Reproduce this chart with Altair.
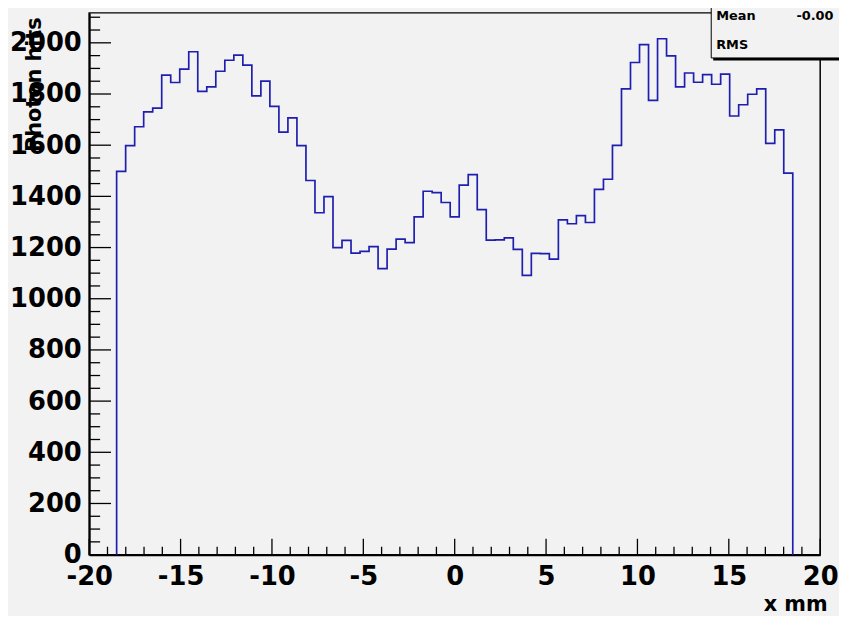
import altair as alt
import numpy as np
import pandas as pd

# ---- data ----
counts = [1498, 1598, 1672, 1730, 1745, 1874, 1845, 1897, 1965, 1810,
          1828, 1889, 1932, 1952, 1913, 1793, 1850, 1752, 1651, 1707,
          1598, 1462, 1336, 1399, 1200, 1228, 1178, 1185, 1204, 1118,
          1194, 1233, 1219, 1320, 1420, 1415, 1376, 1320, 1444, 1485,
          1348, 1229, 1230, 1238, 1193, 1091, 1177, 1176, 1155, 1308,
          1293, 1325, 1298, 1427, 1467, 1599, 1820, 1923, 1993, 1775,
          2016, 1949, 1828, 1882, 1846, 1876, 1838, 1878, 1714, 1758,
          1799, 1820, 1607, 1660, 1491]
hist_range = [-18.5, 18.5]
x_major = [-20, -15, -10, -5, 0, 5, 10, 15, 20]
x_minor = [v for v in range(-20, 21) if v % 5 != 0]
y_major = [0, 200, 400, 600, 800, 1000, 1200, 1400, 1600, 1800, 2000]
y_minor = [v for v in range(0, 2101, 50) if v % 200 != 0]
x_title = "x mm"
y_title = "Photon hits"
stats_names = ["Mean", "RMS"]
stats_vals = ["-0.00", ""]

# ---- build the outline of the histogram ----
edges = np.linspace(hist_range[0], hist_range[1], len(counts) + 1)
rows = [{"i": 0, "x": edges[0], "y": 0}]
for k, c in enumerate(counts):
    rows.append({"i": len(rows), "x": edges[k], "y": c})
    rows.append({"i": len(rows), "x": edges[k + 1], "y": c})
rows.append({"i": len(rows), "x": edges[-1], "y": 0})
df = pd.DataFrame(rows)

W, H = 738, 547
BG = "#f2f2f2"
FONT = "DejaVu Sans"
xs = alt.Scale(domain=[-20, 20], nice=False, zero=False)
ys = alt.Scale(domain=[0, 2117], nice=False, zero=False)

axis_common = dict(ticks=False, grid=False, domain=True, domainColor="black",
                   domainWidth=2, labelFont=FONT, labelFontWeight="bold",
                   labelFontSize=26, labelColor="black", labelOverlap=False,
                   labelFlush=False, labelExpr="datum.value + ''",
                   titleFont=FONT, titleFontWeight="bold",
                   titleColor="black")

hist = alt.Chart(df).mark_line(color="#1e1eb0", strokeWidth=1.7).encode(
    x=alt.X("x:Q", scale=xs,
            axis=alt.Axis(values=x_major, labelPadding=9, title=x_title,
                          titleFontSize=21, titleX=W + 7, titleY=50,
                          titleAlign="right", titleBaseline="middle",
                          **axis_common)),
    y=alt.Y("y:Q", scale=ys,
            axis=alt.Axis(values=y_major, labelPadding=8, labelBaseline="middle",
                          title=y_title, titleFontSize=21, titleAngle=270,
                          titleX=-55, titleY=4, titleAlign="right",
                          titleBaseline="middle", **axis_common)),
    order="i:Q",
)

def xticks(vals, length):
    return alt.Chart(pd.DataFrame({"x": vals})).mark_rule(
        color="black", strokeWidth=1.3).encode(
        x=alt.X("x:Q", scale=xs),
        y=alt.value(H), y2=alt.value(H - length))

def yticks(vals, length):
    return alt.Chart(pd.DataFrame({"y": vals})).mark_rule(
        color="black", strokeWidth=1.3).encode(
        y=alt.Y("y:Q", scale=ys),
        x=alt.value(0), x2=alt.value(length))

one = alt.Data(values=[{}])
box_shadow = alt.Chart(one).mark_rect(color="black").encode(
    x=alt.value(630), x2=alt.value(775), y=alt.value(-12), y2=alt.value(48))
box = alt.Chart(one).mark_rect(fill=BG, stroke="black", strokeWidth=1).encode(
    x=alt.value(628), x2=alt.value(772), y=alt.value(-14), y2=alt.value(45.5))
txt_kw = dict(font=FONT, fontWeight="bold", fontSize=13, color="black",
              align="left", baseline="middle")
t_mean = alt.Chart(one).mark_text(**txt_kw).encode(
    x=alt.value(633), y=alt.value(3.5), text=alt.value(stats_names[0]))
t_rms = alt.Chart(one).mark_text(**txt_kw).encode(
    x=alt.value(633), y=alt.value(32.5), text=alt.value(stats_names[1]))
t_meanv = alt.Chart(one).mark_text(**txt_kw).encode(
    x=alt.value(714), y=alt.value(3.5), text=alt.value(stats_vals[0]))

chart = alt.layer(
    hist,
    xticks(x_major, 16), xticks(x_minor, 8),
    yticks(y_major, 22), yticks(y_minor, 11),
    box_shadow, box, t_mean, t_rms, t_meanv,
).properties(
    width=W, height=H,
    padding={"left": 82, "top": 2, "right": 19, "bottom": 59},
    autosize=alt.AutoSizeParams(type="none"),
    background=BG,
).configure_view(stroke="black", strokeWidth=1.5)

chart.save("out.html", embed_options={"renderer": "svg", "actions": False})
